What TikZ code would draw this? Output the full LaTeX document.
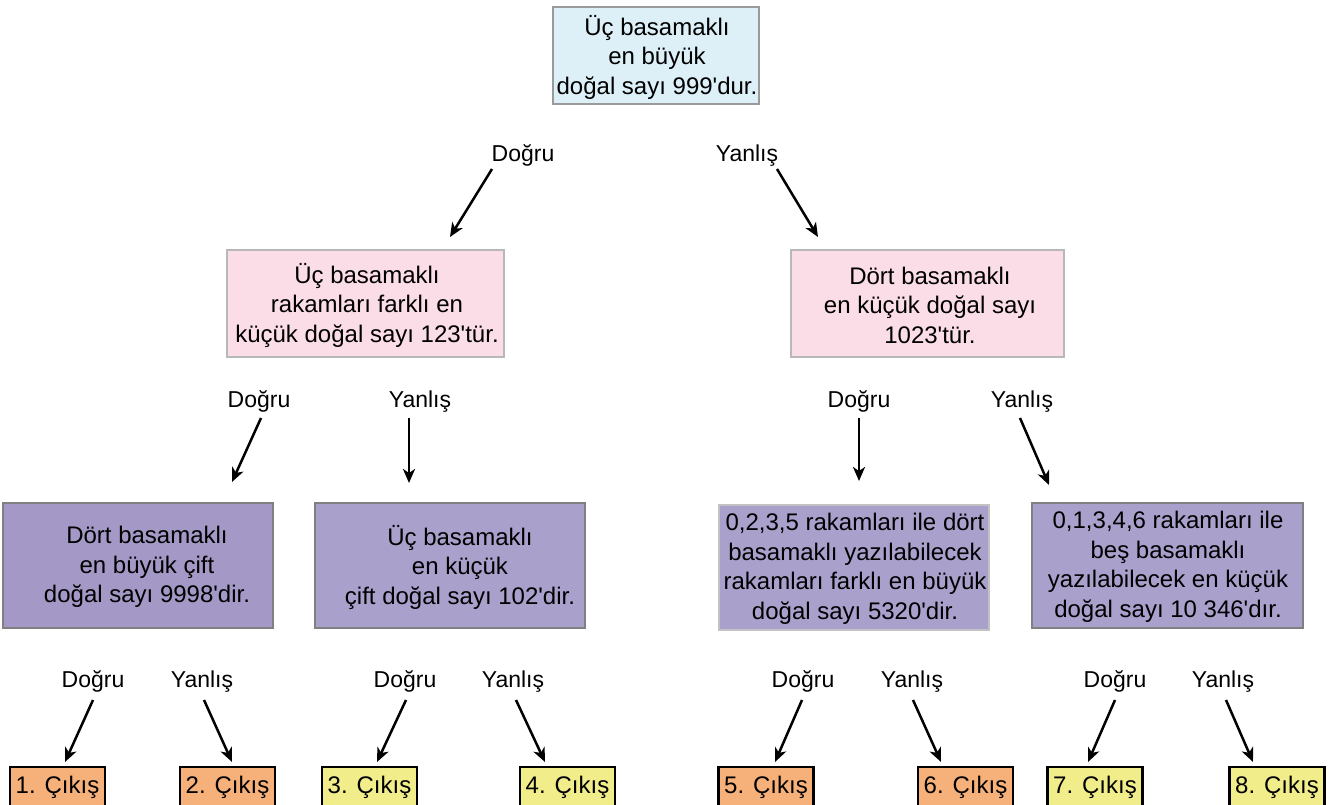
\documentclass[tikz,border=0pt]{standalone}
\usepackage{fontspec}
\setmainfont{Liberation Sans}
\usetikzlibrary{arrows.meta}
\definecolor{topblue}{HTML}{DDF0F8}
\definecolor{pinkfill}{HTML}{FADDE6}
\definecolor{purp}{HTML}{A9A0CC}
\definecolor{purpdark}{HTML}{A498C6}
\definecolor{orangefill}{HTML}{F6B07A}
\definecolor{yellowfill}{HTML}{F1ED8B}
\definecolor{boxline}{HTML}{9A9A9A}
\newcommand{\ap}{\textquotesingle}
\begin{document}
\begin{tikzpicture}[x=1pt,y=-1pt,
  every node/.style={font=\fontsize{23}{29}\selectfont},
  qbox/.style={draw=boxline, line width=1.5pt, inner sep=0pt},
  qtext/.style={align=center, inner sep=0pt, font=\fontsize{24}{29.5}\selectfont},
  lbl/.style={anchor=base, inner sep=0pt},
  exitbox/.style={draw=black, line width=2.5pt, minimum width=95pt, minimum height=40pt, text height=17pt, text depth=5pt, inner sep=0pt, font=\fontsize{24}{29}\selectfont},
  arr/.style={line width=2.5pt, -{Stealth[length=14pt,width=12pt,inset=4pt]}}]
\fill[white] (0,0) rectangle (1341,805);
\clip (0,0) rectangle (1341,805);

% level 0
\node[qbox, fill=topblue, minimum width=206pt, minimum height=97pt] (b0) at (656,55.5) {};
\node[qtext] (t0) at (657,57) {Üç basamaklı\\en büyük\\doğal sayı 999\ap dur.};

% level 1
\node[qbox, fill=pinkfill, draw=boxline!70, minimum width=277pt, minimum height=107pt] (b1) at (365.5,303.5) {};
\node[qtext] (t1) at (367,305) {Üç basamaklı\\ rakamları farklı en\\küçük doğal sayı 123\ap tür.};
\node[qbox, fill=pinkfill, draw=boxline!70, minimum width=273pt, minimum height=107pt] (b2) at (927.5,303.5) {};
\node[qtext] (t2) at (930,305) {Dört basamaklı\\en küçük doğal sayı\\1023\ap tür.};

% level 2
\node[qbox, fill=purpdark, draw=gray, minimum width=270pt, minimum height=125pt] (b3) at (138,565.5) {};
\node[qtext] (t3) at (147,567) {Dört basamaklı\\en büyük çift\\doğal sayı 9998\ap dir.};
\node[qbox, fill=purp, draw=gray, minimum width=270pt, minimum height=125pt] (b4) at (450,565.5) {};
\node[qtext] (t4) at (460,567) {Üç basamaklı\\en küçük\\çift doğal sayı 102\ap dir.};
\node[qbox, fill=purp, draw=boxline!60, minimum width=270pt, minimum height=125pt] (b5) at (854,567.5) {};
\node[qtext] (t5) at (855,569) {0,2,3,5 rakamları ile dört\\basamaklı yazılabilecek\\rakamları farklı en büyük\\doğal sayı 5320\ap dir.};
\node[qbox, fill=purp, draw=gray, minimum width=271pt, minimum height=125pt] (b6) at (1167.5,565.5) {};
\node[qtext] (t6) at (1168,567) {0,1,3,4,6 rakamları ile\\beş basamaklı\\yazılabilecek en küçük\\doğal sayı 10 346\ap dır.};

% exits
\node[exitbox, fill=orangefill] (e1) at (57.5,787) {1. Çıkış};
\node[exitbox, fill=orangefill] (e2) at (227.5,787) {2. Çıkış};
\node[exitbox, fill=yellowfill] (e3) at (369.5,787) {3. Çıkış};
\node[exitbox, fill=yellowfill] (e4) at (567.5,787) {4. Çıkış};
\node[exitbox, fill=orangefill] (e5) at (766,787) {5. Çıkış};
\node[exitbox, fill=orangefill] (e6) at (965.5,787) {6. Çıkış};
\node[exitbox, fill=yellowfill] (e7) at (1095,787) {7. Çıkış};
\node[exitbox, fill=yellowfill] (e8) at (1277,787) {8. Çıkış};

% labels
\node[lbl] (l0d) at (523,162) {Doğru};
\node[lbl] (l0y) at (747,162) {Yanlış};
\node[lbl] (l1d) at (259,407) {Doğru};
\node[lbl] (l1y) at (420,407) {Yanlış};
\node[lbl] (l2d) at (859,407) {Doğru};
\node[lbl] (l2y) at (1022,407) {Yanlış};
\node[lbl] (l3a) at (93,687) {Doğru};
\node[lbl] (l3b) at (202,687) {Yanlış};
\node[lbl] (l3c) at (405,687) {Doğru};
\node[lbl] (l3d) at (513,687) {Yanlış};
\node[lbl] (l3e) at (803,687) {Doğru};
\node[lbl] (l3f) at (912,687) {Yanlış};
\node[lbl] (l3g) at (1115,687) {Doğru};
\node[lbl] (l3h) at (1223,687) {Yanlış};

% arrow endpoints
\coordinate (a0ds) at (492,169); \coordinate (a0de) at (450,237);
\coordinate (a0ys) at (777,169); \coordinate (a0ye) at (818,237);
\coordinate (a1ds) at (261,418); \coordinate (a1de) at (232,482);
\coordinate (a1ys) at (409,418); \coordinate (a1ye) at (409,483);
\coordinate (a2ds) at (859,418); \coordinate (a2de) at (859,481);
\coordinate (a2ys) at (1020,418); \coordinate (a2ye) at (1049,485);
\coordinate (a3as) at (93,700); \coordinate (a3ae) at (65,762);
\coordinate (a3bs) at (204,700); \coordinate (a3be) at (232,762);
\coordinate (a3cs) at (406,700); \coordinate (a3ce) at (377,762);
\coordinate (a3ds) at (516,700); \coordinate (a3de) at (545,762);
\coordinate (a3es) at (802,700); \coordinate (a3ee) at (775,762);
\coordinate (a3fs) at (913,700); \coordinate (a3fe) at (941,762);
\coordinate (a3gs) at (1115,700); \coordinate (a3ge) at (1088,762);
\coordinate (a3hs) at (1226,700); \coordinate (a3he) at (1253,762);

\foreach \s/\e in {a0ds/a0de,a0ys/a0ye,a1ds/a1de,a1ys/a1ye,a2ds/a2de,a2ys/a2ye,
  a3as/a3ae,a3bs/a3be,a3cs/a3ce,a3ds/a3de,a3es/a3ee,a3fs/a3fe,a3gs/a3ge,a3hs/a3he}
  \draw[arr] (\s) -- (\e);
\end{tikzpicture}
\end{document}
